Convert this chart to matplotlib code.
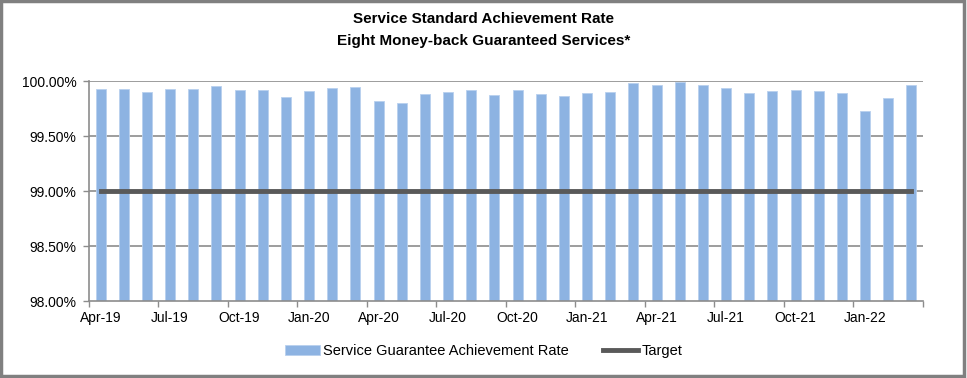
import matplotlib
matplotlib.use("Agg")
import matplotlib.pyplot as plt
from matplotlib.patches import Rectangle

months = ["Apr-19", "May-19", "Jun-19", "Jul-19", "Aug-19", "Sep-19", "Oct-19", "Nov-19", "Dec-19",
          "Jan-20", "Feb-20", "Mar-20", "Apr-20", "May-20", "Jun-20", "Jul-20", "Aug-20", "Sep-20",
          "Oct-20", "Nov-20", "Dec-20", "Jan-21", "Feb-21", "Mar-21", "Apr-21", "May-21", "Jun-21",
          "Jul-21", "Aug-21", "Sep-21", "Oct-21", "Nov-21", "Dec-21", "Jan-22", "Feb-22", "Mar-22"]
rate = [99.93, 99.93, 99.90, 99.93, 99.93, 99.955, 99.915, 99.92, 99.855,
        99.905, 99.94, 99.95, 99.815, 99.80, 99.88, 99.90, 99.915, 99.87,
        99.92, 99.88, 99.865, 99.89, 99.90, 99.98, 99.965, 99.99, 99.965,
        99.94, 99.895, 99.905, 99.915, 99.905, 99.89, 99.73, 99.85, 99.965]
target = [99.0] * len(months)
yticks = [98.0, 98.5, 99.0, 99.5, 100.0]

plt.rcParams['font.family'] = ['Liberation Sans', 'DejaVu Sans']

fig = plt.figure(figsize=(9.67, 3.78), dpi=100)
ax = fig.add_axes([0.092, 0.2037, 0.8625, 0.582])

x = list(range(len(months)))
for y in yticks[1:]:
    ax.axhline(y, color="#8c8c8c", lw=1.2, zorder=1)
bars = ax.bar(x, [r - 98.0 for r in rate], bottom=98.0, width=0.43, color="#8DB3E2",
              edgecolor="#B8D0EE", lw=0.6, zorder=2)
line, = ax.plot(x, target, color="#595959", lw=3.5, zorder=3)

ax.set_xlim(-0.5, len(months) - 0.5)
ax.set_ylim(98.0, 100.0)
ax.set_yticks(yticks)
ax.set_yticklabels(["%.2f%%" % v for v in yticks], fontsize=10)
ax.set_xticks([i - 0.5 for i in range(0, len(months) + 1, 3)])
ax.set_xticklabels([])
ax.set_xticks(x[::3], minor=True)
ax.set_xticklabels(months[::3], minor=True, fontsize=10)
ax.tick_params(axis="x", which="minor", length=0, pad=7)
ax.tick_params(axis="both", which="major", length=4, color="#8c8c8c", width=1)
ax.tick_params(axis="y", pad=5)
for s in ["top", "right"]:
    ax.spines[s].set_visible(False)
for s in ["left", "bottom"]:
    ax.spines[s].set_color("#8c8c8c")
    ax.spines[s].set_linewidth(1.2)

fig.text(0.5, 0.950, "Service Standard Achievement Rate", ha="center", va="center",
         fontsize=11, fontweight="bold")
fig.text(0.5, 0.892, "Eight Money-back Guaranteed Services*", ha="center", va="center",
         fontsize=11, fontweight="bold")

fig.legend([bars, line], ["Service Guarantee Achievement Rate", "Target"],
           loc="center", bbox_to_anchor=(0.5, 0.071), ncol=2, frameon=False, fontsize=10.5,
           handlelength=2.4, handleheight=0.6, handletextpad=0.2, columnspacing=2.4)

fig.add_artist(Rectangle((0.001, 0.004), 0.996, 0.994, transform=fig.transFigure,
                         fill=False, edgecolor="#808080", lw=2.5))

fig.savefig("out.png", dpi=100)
